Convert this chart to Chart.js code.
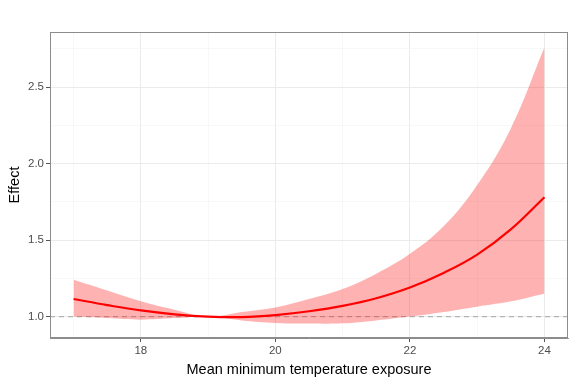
<!DOCTYPE html>
<html>
<head>
<meta charset="utf-8">
<script src="https://cdn.jsdelivr.net/npm/chart.js@4"></script>
<style>
  html, body { margin: 0; padding: 0; background: #fff; }
  #wrap { width: 576px; height: 384px; }
</style>
</head>
<body>
<div id="wrap"><canvas id="chart" width="576" height="384"></canvas></div>
<script>
// values
const temps   = [17,    17.5,  18,   18.5,  19,  19.5,  20,    20.5,  21,    21.5,  22,   22.5,  23,    23.5, 24];
const effect  = [1.115, 1.075, 1.04, 1.015, 1.0, 0.997, 1.01,  1.035, 1.07,  1.12,  1.19, 1.285, 1.405, 1.57, 1.78];
const upperCI = [1.24,  1.17,  1.10, 1.045, 1.0, 1.03,  1.06,  1.115, 1.18,  1.28,  1.41, 1.59,  1.86,  2.23, 2.76];
const lowerCI = [1.0,   0.99,  0.98, 0.99,  1.0, 0.975, 0.958, 0.955, 0.956, 0.975, 1.0,  1.03,  1.065, 1.10, 1.15];
const xRange = [16.65, 24.35];
const yRange = [0.86, 2.86];
const xTicks = [17, 18, 19, 20, 21, 22, 23, 24];
const yTicks = [1.0, 1.25, 1.5, 1.75, 2.0, 2.25, 2.5, 2.75];
const xMajor = [18, 20, 22, 24];
const yMajor = [1.0, 1.5, 2.0, 2.5];
const refLine = 1;

const pts = (ys) => temps.map((x, i) => ({ x: x, y: ys[i] }));
const isMajor = (list, v) => list.some(m => Math.abs(m - v) < 1e-6);
const FONT = 'Liberation Sans, Arial, sans-serif';

function gridOpts(major) {
    return {
        color: (c) => isMajor(major, c.tick && c.tick.value) ? '#ebebeb' : '#f4f4f4',
        lineWidth: (c) => isMajor(major, c.tick && c.tick.value) ? 1 : 0.6,
        tickColor: (c) => isMajor(major, c.tick && c.tick.value) ? '#555' : 'rgba(0,0,0,0)',
        tickLength: 4
    };
}

const ctx = document.getElementById('chart').getContext('2d');
new Chart(ctx, {
    type: 'line',
    data: {
        datasets: [
            {
                // reference line at 1
                data: xRange.map(x => ({ x: x, y: refLine })),
                borderColor: '#b3b3b3',
                borderWidth: 1.2,
                borderDash: [5, 4],
                pointRadius: 0,
                fill: false,
                order: 3
            },
            {
                data: pts(upperCI),
                borderWidth: 0,
                borderColor: 'rgba(0,0,0,0)',
                backgroundColor: 'rgba(255, 0, 0, 0.3)',
                pointRadius: 0,
                tension: 0.4,
                fill: '+1',
                order: 2
            },
            {
                data: pts(lowerCI),
                borderWidth: 0,
                borderColor: 'rgba(0,0,0,0)',
                pointRadius: 0,
                tension: 0.4,
                fill: false,
                order: 2
            },
            {
                data: pts(effect),
                borderColor: '#ff0000',
                borderWidth: 2.2,
                pointRadius: 0,
                tension: 0.4,
                fill: false,
                order: 1
            }
        ]
    },
    options: {
        responsive: false,
        animation: false,
        layout: { padding: { top: 32, right: 8, left: 6, bottom: 5 } },
        plugins: {
            legend: { display: false },
            tooltip: { enabled: false }
        },
        scales: {
            x: {
                type: 'linear',
                min: xRange[0],
                max: xRange[1],
                afterBuildTicks: (s) => { s.ticks = xTicks.map(v => ({ value: v })); },
                afterFit: (s) => { s.height = 41; },
                border: { color: '#8c8c8c', width: 1 },
                grid: gridOpts(xMajor),
                ticks: {
                    autoSkip: false,
                    maxRotation: 0,
                    color: '#4d4d4d',
                    padding: 2,
                    font: { family: FONT, size: 11.5 },
                    callback: (v) => isMajor(xMajor, v) ? String(v) : ''
                },
                title: {
                    display: true,
                    text: 'Mean minimum temperature exposure',
                    color: '#000',
                    padding: { top: 1, bottom: 0 },
                    font: { family: FONT, size: 14.5 }
                }
            },
            y: {
                type: 'linear',
                min: yRange[0],
                max: yRange[1],
                afterBuildTicks: (s) => { s.ticks = yTicks.map(v => ({ value: v })); },
                afterFit: (s) => { s.width = 44; },
                border: { color: '#8c8c8c', width: 1 },
                grid: gridOpts(yMajor),
                ticks: {
                    autoSkip: false,
                    color: '#4d4d4d',
                    padding: 2,
                    font: { family: FONT, size: 11.5 },
                    callback: (v) => isMajor(yMajor, v) ? v.toFixed(1) : ''
                },
                title: {
                    display: true,
                    text: 'Effect',
                    color: '#000',
                    padding: { top: 0, bottom: 2 },
                    font: { family: FONT, size: 14.5 }
                }
            }
        }
    },
    plugins: [{
        // closed panel border like theme_bw
        id: 'panelBorder',
        afterDraw(chart) {
            const a = chart.chartArea;
            const c = chart.ctx;
            c.save();
            c.strokeStyle = '#8c8c8c';
            c.lineWidth = 1;
            c.strokeRect(a.left + 0.5, a.top + 0.5, a.right - a.left - 1, a.bottom - a.top - 1);
            c.restore();
        }
    }]
});
</script>
</body>
</html>
